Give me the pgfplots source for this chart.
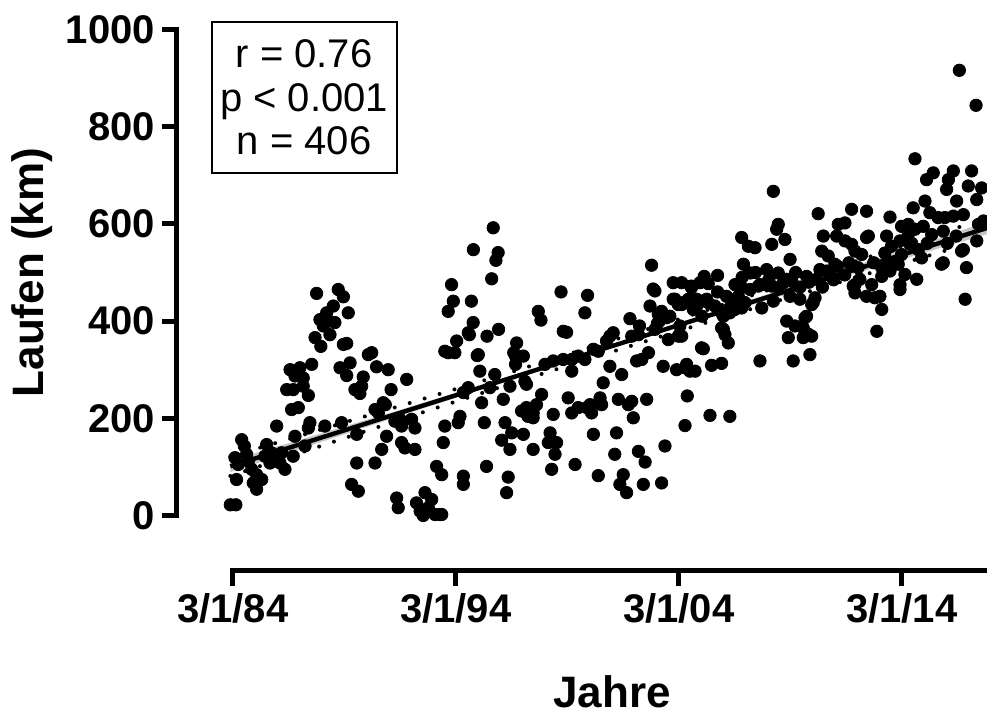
\documentclass[border=0pt]{standalone}
\usepackage{fontspec}
\setmainfont{Liberation Sans}
\usepackage{pgfplots}
\usepackage{pgfplotstable}
\pgfplotsset{compat=1.18}

\pgfplotstableread{
x y
1984.05 22
1984.30 22
1984.56 156
1984.68 143
1984.78 126
1984.86 112
1984.26 119
1984.41 105
1985.68 146
1985.90 129
1986.13 122
1986.28 108
1986.50 95
1985.01 95
1985.23 84
1985.46 74
1985.08 67
1985.23 54
1984.33 74
1986.95 163
1987.40 143
1986.87 122
1986.35 129
1985.60 122
1985.83 108
1986.13 184
1987.62 191
1987.55 180
1988.29 184
1989.04 191
1987.92 457
1988.89 465
1989.12 450
1988.67 431
1989.34 417
1988.37 417
1988.07 403
1988.44 400
1988.74 397
1988.22 390
1988.52 372
1987.85 366
1988.11 348
1989.12 352
1989.27 354
1986.73 300
1987.17 304
1987.70 311
1986.95 287
1987.32 283
1986.58 259
1986.87 259
1987.32 266
1987.55 247
1988.97 304
1989.42 314
1989.27 288
1990.24 331
1990.39 335
1990.61 306
1991.13 300
1990.01 285
1989.94 266
1989.64 259
1989.86 251
1991.96 280
1991.26 259
1986.80 218
1987.10 222
1989.72 167
1990.91 232
1990.69 211
1990.54 218
1991.00 228
1991.43 194
1991.66 198
1991.73 184
1992.18 198
1992.33 180
1991.06 163
1991.73 150
1991.88 139
1992.33 136
1990.84 136
1990.54 108
1989.72 108
1989.49 64
1989.79 50
1991.51 36
1991.58 16
1992.40 26
1992.78 47
1992.56 9
1992.93 16
1993.23 2
1993.53 2
1992.70 0
1993.08 33
1993.45 2
1994.05 441
1993.82 420
1994.86 441
1994.72 376
1994.94 397
1994.20 359
1993.82 335
1993.67 338
1994.72 263
1994.50 253
1994.35 204
1994.27 191
1993.67 184
1993.60 150
1993.30 101
1993.53 84
1994.50 81
1994.50 64
1995.84 592
1994.95 547
1996.06 541
1995.96 525
1995.77 487
1993.97 475
1994.12 335
1995.12 329
1994.77 372
1995.56 369
1996.08 383
1998.88 460
2000.07 453
1997.86 420
1997.98 402
1999.95 417
2001.97 405
2003.09 462
1996.89 355
1996.76 335
1996.84 328
1995.17 331
1995.24 297
1995.69 263
1995.32 232
1996.29 239
1995.44 191
1996.37 191
1996.67 170
1996.22 155
1996.59 136
1995.54 101
1996.51 79
1996.44 47
1997.19 167
1997.11 215
1997.40 204
1997.63 211
1997.78 228
1997.63 201
1997.33 222
1997.33 270
1998.01 249
1997.63 136
1998.39 170
1998.31 150
1998.68 150
1998.61 126
1998.46 95
1998.53 208
1999.20 242
1999.51 105
1999.36 211
1999.65 222
2000.03 222
2000.25 211
2000.18 228
2000.63 242
2000.70 228
2000.33 167
2000.55 82
2000.77 273
2001.07 307
2001.60 290
2001.45 239
2001.90 228
2002.05 235
2002.12 201
2001.37 170
2001.29 126
2001.67 84
2001.52 64
2001.82 47
2002.35 132
2002.65 110
2002.57 64
2003.39 67
2002.72 239
2003.54 143
2004.44 185
2002.80 335
2002.27 318
2002.50 321
2003.46 307
2004.06 300
2004.44 304
2004.66 297
2004.89 297
2005.63 309
2006.08 313
2004.54 246
2005.56 206
2006.45 204
2003.69 362
2004.14 369
2005.26 343
2006.16 383
2006.38 355
2003.09 383
2001.22 376
2002.05 369
2002.35 372
2000.92 359
2001.07 369
1998.16 311
1998.53 318
1998.98 321
1999.36 321
1999.65 328
1999.95 321
2000.55 338
2000.33 342
1999.36 297
1998.98 379
1999.13 377
1996.84 311
1997.19 328
1996.59 266
1997.26 276
1995.91 290
2002.94 515
2003.01 466
2002.87 431
2003.24 414
2003.39 420
2003.76 410
2003.61 407
2003.99 445
2004.29 434
2004.81 424
2005.18 441
2005.48 438
2005.78 431
2006.08 417
2006.30 451
2006.45 427
2003.91 479
2004.29 479
2004.73 469
2003.91 445
2004.14 434
2004.59 445
2004.96 445
2005.30 492
2005.48 477
2005.90 494
2004.71 472
2005.11 479
2004.36 438
2004.96 431
2005.41 445
2006.68 438
2006.98 427
2006.45 417
2006.16 410
2006.98 469
2007.36 465
2007.73 472
2008.03 475
2008.33 472
2008.62 469
2008.85 479
2009.00 486
2007.88 427
2004.21 390
2004.29 369
2005.18 345
2006.08 386
2006.23 372
2004.51 311
2007.80 318
2009.00 400
2009.37 390
2009.82 407
2009.74 386
2009.07 366
2009.74 366
2009.97 373
2010.12 369
2009.29 318
2010.04 331
2010.27 448
2010.19 438
2009.89 410
2010.34 486
2010.79 503
2011.98 472
2012.28 486
2012.06 458
2012.58 451
2012.95 448
2013.18 451
2013.26 424
2013.04 379
2011.27 513
2011.79 520
2016.02 520
2016.92 547
2017.06 510
2017.00 445
2017.52 565
2006.83 451
2007.13 438
2006.68 424
2008.40 441
2009.15 451
2009.59 445
2010.12 434
2014.08 465
2016.74 916
2017.49 844
2014.75 734
2008.40 667
2015.57 705
2015.27 691
2016.47 709
2016.25 691
2016.17 671
2017.29 709
2017.14 678
2017.74 674
2017.52 650
2015.20 647
2014.67 633
2016.62 647
2015.42 623
2015.79 613
2016.09 613
2016.47 616
2016.92 619
2013.63 614
2014.38 595
2014.45 578
2015.12 595
2015.50 578
2011.91 630
2012.58 626
2010.41 621
2008.62 599
2008.55 589
2008.92 568
2008.33 558
2009.15 527
2006.98 572
2007.28 554
2007.58 551
2007.06 517
2007.36 499
2008.10 506
2008.62 499
2006.68 475
2007.80 475
2010.64 575
2010.57 544
2010.86 534
2010.49 506
2010.94 496
2011.16 517
2011.31 599
2011.61 602
2011.24 575
2011.61 565
2011.91 558
2012.06 544
2012.36 537
2012.58 572
2012.66 575
2013.48 575
2013.70 554
2014.15 595
2014.45 599
2014.75 589
2014.08 565
2014.53 558
2014.15 537
2014.90 547
2015.05 530
2013.70 520
2013.26 510
2014.00 517
2014.30 496
2016.02 585
2016.84 544
2015.94 517
2014.83 486
2014.08 475
2017.60 599
2017.82 606
2009.22 482
2009.89 492
2012.81 475
2013.26 492
2013.63 503
2012.06 475
2007.00 490
2007.60 500
2008.20 485
2009.60 470
2010.00 480
2010.60 470
2011.10 485
2011.60 495
2012.20 510
2012.90 520
2013.40 540
2014.60 560
2015.30 560
2016.20 560
2016.60 575
2009.40 500
2005.90 460
2005.20 410
2003.20 395
2002.40 390
}\runs

\pgfplotstableread{
x lo hi
1984.05 81.3 121.3
1988.00 141.3 175.3
1992.00 202.1 230.1
1996.00 261.9 285.9
2000.00 320.2 343.2
2004.00 377.5 401.5
2008.00 433.3 461.3
2012.00 488.6 521.6
2016.00 543.4 582.4
2018.30 575.1 617.1
}\dotband

\begin{document}
\begin{tikzpicture}
\begin{axis}[
  at={(0,0)}, anchor=south west,
  scale only axis, width=405pt, height=270.75pt,
  xmin=1981.66, xmax=2017.98, ymin=-114.2, ymax=1000,
  axis line style={draw=none},
  tick align=outside, xtick pos=bottom, ytick pos=left,
  major tick length=7.5pt,
  major tick style={black, line width=2.5pt},
  xtick={1984.16,1994.16,2004.16,2014.16},
  xticklabels={3/1/84,3/1/94,3/1/04,3/1/14},
  ytick={0,200,400,600,800,1000},
  tick label style={font=\fontsize{20}{24}\selectfont\bfseries},
  /pgf/number format/assume math mode=true,
  /pgf/number format/1000 sep={},
  xlabel={Jahre}, ylabel={Laufen (km)},
  every axis x label/.style={at={(axis description cs:0.537,-0.2235)},anchor=center,font=\fontsize{22}{26}\selectfont\bfseries},
  every axis y label/.style={at={(axis description cs:-0.179,0.551)},rotate=90,anchor=center,font=\fontsize{22}{26}\selectfont\bfseries},
  clip=true,
]
\addplot[fill=black!22, draw=none] coordinates {
(1984.05,113.3) (1988,167.3) (1992,222.1) (1996,278.4) (2000,335.7) (2004,394.0) (2008,453.3) (2012,513.1) (2016,573.9) (2018.3,609.1)
(2018.3,583.1) (2016,551.9) (2012,497.1) (2008,441.3) (2004,385.0) (2000,327.7) (1996,269.4) (1992,210.1) (1988,149.3) (1984.05,89.3)
} -- cycle;
\addplot[only marks, mark=*, mark size=3.1pt, black] table[x=x, y=y] {\runs};
\addplot[black, line width=2pt, line cap=round, dash pattern=on 0pt off 7.8pt] table[x=x, y=hi] {\dotband};
\addplot[black, line width=2pt, line cap=round, dash pattern=on 0pt off 7.8pt] table[x=x, y=lo] {\dotband};
\addplot[black, line width=2.2pt] coordinates {(1984.05,101.3) (2018.3,596.1)};
\coordinate (yb) at (axis cs:1981.66,0);
\coordinate (yt) at (axis cs:1981.66,1000);
\coordinate (xl) at (axis cs:1984.16,-114.2);
\coordinate (xr) at (axis cs:2018.5,-114.2);
\coordinate (box) at (axis cs:1987.36,860.6);
\end{axis}
\draw[line width=2.5pt, line cap=rect] (yb) -- (yt);
\draw[line width=2.5pt, line cap=rect] (xl) -- (xr);
\node[draw, line width=1pt, minimum width=92.5pt, minimum height=75.6pt, align=center, inner sep=0pt, font=\fontsize{20}{21.75}\selectfont] at (box) {r = 0.76\\p < 0.001\\n = 406};
\pgfresetboundingbox
\useasboundingbox (-88.5pt,-73.5pt) rectangle (405pt,285.5pt);
\end{tikzpicture}
\end{document}
